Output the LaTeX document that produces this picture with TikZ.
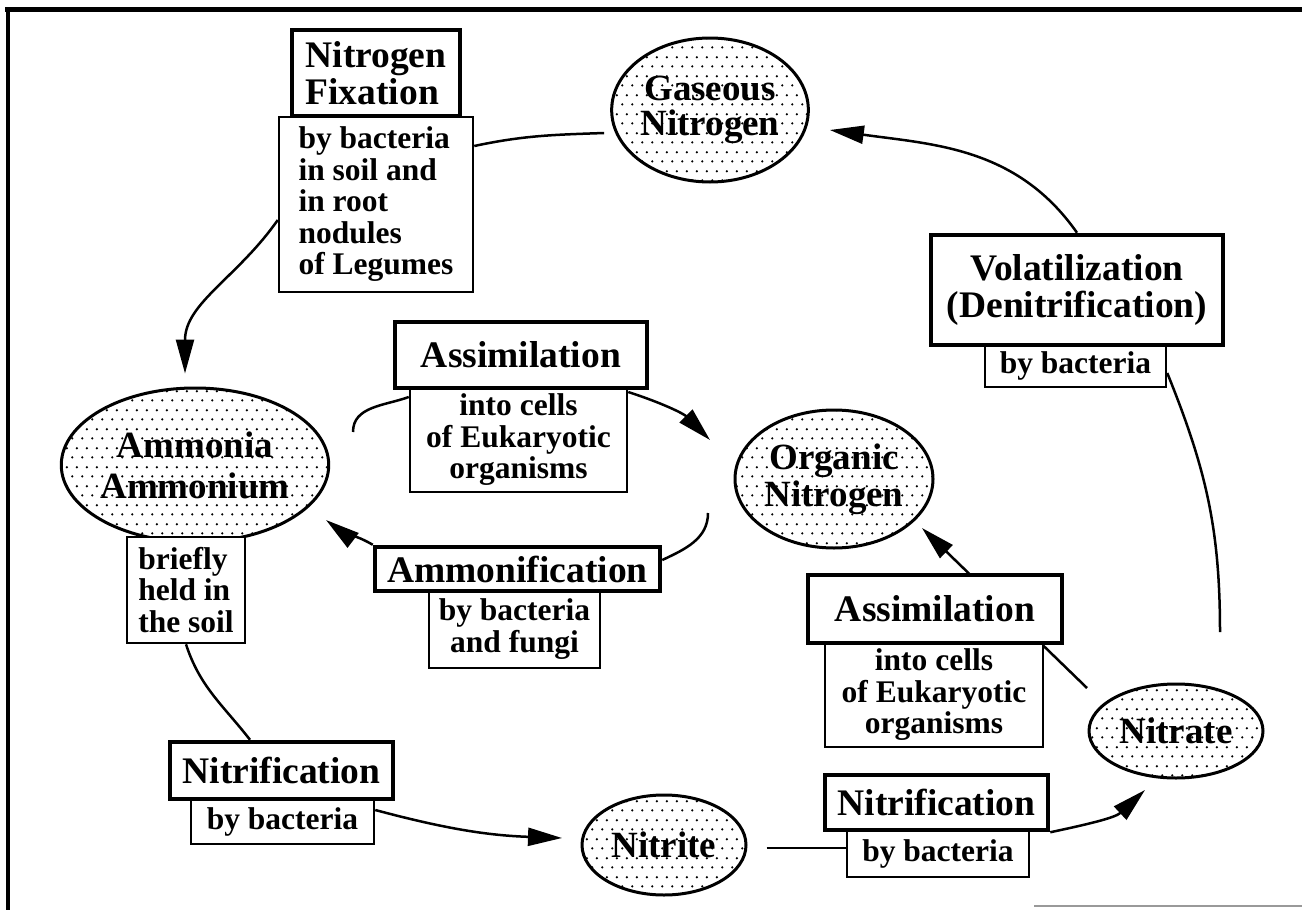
\documentclass[tikz,border=0pt]{standalone}
\usepackage{fontspec}
\setmainfont{Liberation Serif}
\usetikzlibrary{arrows.meta,shapes.geometric,patterns.meta,calc,backgrounds}

\tikzdeclarepattern{
  name=ndots,
  type=uncolored,
  bounding box={(0pt,0pt) and (10pt,18.6pt)},
  tile size={(10pt,18.6pt)},
  code={
    \fill (2.5pt,4.65pt) circle (1.3pt);
    \fill (7.5pt,13.95pt) circle (1.3pt);
  }
}

\newcommand\nhead{\fontsize{37.5}{36.5}\selectfont\bfseries}
\newcommand\nsub{\fontsize{31.5}{31.5}\selectfont\bfseries}

\begin{document}
\begin{tikzpicture}[x=1pt,y=1pt,
  headbox/.style={draw, line width=4.5pt, fill=white, inner sep=0pt, font=\nhead, align=center},
  subbox/.style={draw, line width=2.5pt, fill=white, inner sep=0pt, font=\nsub, align=center},
  pool/.style={ellipse, draw, line width=3pt, pattern=ndots, inner sep=0pt, align=center},
  link/.style={line width=2.5pt},
  arr/.style={link, -{Triangle[length=34pt,width=18pt]}}
]
\useasboundingbox (0,0) rectangle (1302,-910);

% frame
\draw[line width=5pt] (5,-9) -- (1302,-9);
\draw[line width=4pt] (8,-9) -- (8,-910);
\draw[line width=2pt, black!40] (1034,-906) -- (1302,-906);

% pools
\node[pool, minimum width=184pt, minimum height=144pt, font=\fontsize{37}{35}\selectfont\bfseries] (gas) at (710,-110) {Gaseous\\Nitrogen};
\node[pool, minimum width=258pt, minimum height=154pt, font=\fontsize{37}{41}\selectfont\bfseries] (amm) at (195,-465) {Ammonia\\Ammonium};
\node[pool, minimum width=198pt, minimum height=138pt, font=\fontsize{37}{37}\selectfont\bfseries] (org) at (834,-479) {Organic\\Nitrogen};
\node[pool, minimum width=174pt, minimum height=94pt, font=\fontsize{37}{37}\selectfont\bfseries] (nitrate) at (1176,-731) {Nitrate};
\node[pool, minimum width=164pt, minimum height=100pt, font=\fontsize{37}{37}\selectfont\bfseries] (nitrite) at (664,-845) {Nitrite};

% process boxes
\node[subbox, align=left, minimum width=194pt, minimum height=175pt] (nfsub) at (376,-204.5) {by bacteria\\in soil and\\in root\\nodules\\of Legumes};
\node[headbox, align=left, minimum width=168pt, minimum height=86pt] (nfhead) at (376,-73) {Nitrogen\\Fixation};

\node[subbox, minimum width=181pt, minimum height=42pt] (volsub) at (1075.5,-366) {by bacteria};
\node[headbox, minimum width=292pt, minimum height=110pt] (volhead) at (1077,-290) {Volatilization\\(Denitrification)};

\node[subbox, align=left, minimum width=118pt, minimum height=106pt] (ammsub) at (186,-590) {briefly\\held in\\the soil};

\node[subbox, minimum width=217pt, minimum height=104pt] (asssub) at (518.5,-440) {into cells\\of Eukaryotic\\organisms};
\node[headbox, minimum width=252pt, minimum height=66pt] (asshead) at (521,-355) {Assimilation};

\node[subbox, minimum width=171pt, minimum height=78pt] (amfsub) at (514.5,-629) {by bacteria\\and fungi};
\node[headbox, minimum width=285pt, minimum height=44pt] (amfhead) at (517.5,-569) {Ammonification};

\node[subbox, minimum width=218pt, minimum height=104pt] (ass2sub) at (934,-695) {into cells\\of Eukaryotic\\organisms};
\node[headbox, minimum width=254pt, minimum height=68pt] (ass2head) at (935,-609) {Assimilation};

\node[subbox, minimum width=183pt, minimum height=45pt] (nit1sub) at (282.5,-821.5) {by bacteria};
\node[headbox, minimum width=223pt, minimum height=57pt] (nit1head) at (281.5,-770.5) {Nitrification};

\node[subbox, minimum width=182pt, minimum height=47pt] (nit2sub) at (938,-853.5) {by bacteria};
\node[headbox, minimum width=223pt, minimum height=55pt] (nit2head) at (936.5,-802.5) {Nitrification};

% free ends
\coordinate (volend) at (1220,-632);
\coordinate (asloopend) at (353,-432);
\coordinate (amloopend) at (708,-513);

\begin{pgfonlayer}{background}
\draw[link] ($(nfsub.east)+(0,58.5)$) to[out=12,in=182] ($(gas.west)+(-6,-23)$);
\draw[arr] ($(nfsub.west)+(0,-15.5)$) to[out=235,in=90] ($(amm.north)+(-10,13)$);
\draw[arr] (volhead.north) to[out=125,in=-8] ($(gas.east)+(20,-20)$);
\draw[link] ($(volsub.east)+(0,-7)$) to[out=-68,in=90] (volend);
\draw[arr] ($(nitrate.center)+(-89,43)$) -- ($(org.center)+(88,-49)$);
\draw[link] ($(asssub.west)+(0,43)$) to[out=200,in=90] (asloopend);
\draw[arr] ($(asssub.east)+(0,48)$) to[out=-18,in=135] ($(org.center)+(-124,39)$);
\draw[arr] (amfhead.north west) to[out=150,in=-37] ($(amm.center)+(131,-55)$);
\draw[link] ($(amfhead.east)+(0,9)$) to[out=25,in=-90] (amloopend);
\draw[link] (ammsub.south) to[out=-72,in=128] ($(nit1head.north)+(-31.5,0)$);
\draw[arr] ($(nit1sub.east)+(0,11.5)$) to[out=-15,in=178] ($(nitrite.center)+(-102,7)$);
\draw[link] ($(nitrite.east)+(19,-3)$) -- ($(nit2sub.west)+(0,5.5)$);
\draw[arr] (nit2head.south east) to[out=12,in=-137] ($(nitrate.center)+(-31,-59)$);
\end{pgfonlayer}
\end{tikzpicture}
\end{document}
